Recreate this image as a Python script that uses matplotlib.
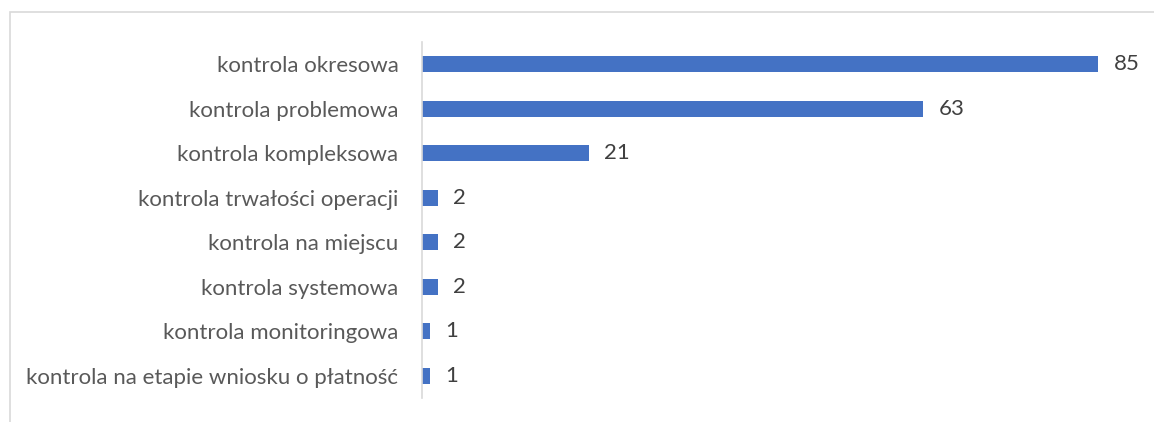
import matplotlib.pyplot as plt
from matplotlib.patches import Rectangle

# --- Data ---
categories = [
    "kontrola okresowa",
    "kontrola problemowa",
    "kontrola kompleksowa",
    "kontrola trwałości operacji",
    "kontrola na miejscu",
    "kontrola systemowa",
    "kontrola monitoringowa",
    "kontrola na etapie wniosku o płatność",
]
values = [85, 63, 21, 2, 2, 2, 1, 1]

W, H = 1154, 422
fig = plt.figure(figsize=(W / 100, H / 100), dpi=100)
plt.rcParams['font.family'] = ['Lato', 'DejaVu Sans']

# chart border (light grey frame)
fig.patches.append(Rectangle((10 / W, -0.1), 2.0, (H - 12) / H + 0.1,
                             transform=fig.transFigure, fill=False,
                             edgecolor='#d9d9d9', linewidth=1.2))

ax = fig.add_axes([422 / W, 1 - 398 / H, (1138 - 422) / W, (398 - 42) / H])
ypos = list(range(len(categories)))
ax.barh(ypos, values, height=0.36, color='#4472C4')
ax.set_xlim(0, 90)
ax.set_ylim(len(categories) - 0.5, -0.5)

ax.set_yticks(ypos)
ax.set_yticklabels(categories, fontsize=16, color='#595959')
ax.tick_params(axis='y', length=0, pad=17)
ax.set_xticks([])

for s in ['top', 'right', 'bottom']:
    ax.spines[s].set_visible(False)
ax.spines['left'].set_color('#d9d9d9')
ax.spines['left'].set_linewidth(1.2)

for y, v in zip(ypos, values):
    ax.annotate(str(v), (v, y), xytext=(11, 0), textcoords='offset points',
                va='center', ha='left', fontsize=16, color='#404040')

fig.savefig("out.png", dpi=100)
